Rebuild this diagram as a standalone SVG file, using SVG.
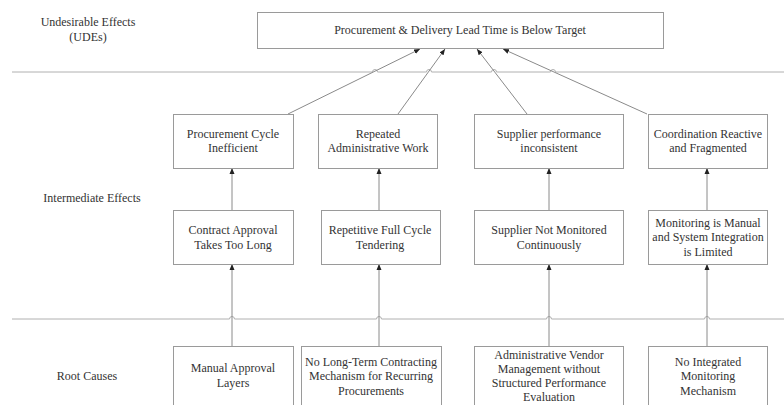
<svg xmlns="http://www.w3.org/2000/svg" width="784" height="405" viewBox="0 0 784 405">
  <style>
    text { font-family: 'Liberation Serif', 'DejaVu Serif', serif; font-size: 12px; fill: #333; text-anchor: middle; }
    .box { fill: #fff; stroke: #9a9a9a; stroke-width: 1; }
    .divider { fill: none; stroke: #b0b0b0; stroke-width: 1; }
    .link { fill: none; stroke: #8a8a8a; stroke-width: 1; marker-end: url(#arrow); }
  </style>
  <defs>
    <marker id="arrow" viewBox="0 0 6 6" refX="6" refY="3" markerWidth="6" markerHeight="6" markerUnits="userSpaceOnUse" orient="auto">
      <path d="M0,0.5 L6,3 L0,5.5 Z" fill="#222"/>
    </marker>
  </defs>
  <rect width="784" height="405" fill="#fff"/>

  <!-- level dividers, hopping over the connectors they cross -->
  <g id="dividers">
    <path class="divider" d="M12,72 H372.5 A2.5,2.5 0 0 1 377.5,72 H426.5 A2.5,2.5 0 0 1 431.5,72 H491.5 A2.5,2.5 0 0 1 496.5,72 H550.5 A2.5,2.5 0 0 1 555.5,72 H784"/>
    <path class="divider" d="M12,319 H229.5 A2.5,2.5 0 0 1 234.5,319 H376.5 A2.5,2.5 0 0 1 381.5,319 H546.5 A2.5,2.5 0 0 1 551.5,319 H704.5 A2.5,2.5 0 0 1 709.5,319 H784"/>
  </g>

  <!-- level labels -->
  <g id="labels" font-family="Liberation Serif, serif">
    <text x="88" y="26">Undesirable Effects</text>
    <text x="88" y="41">(UDEs)</text>
    <text x="92" y="202">Intermediate Effects</text>
    <text x="87" y="380">Root Causes</text>
  </g>

  <!-- connectors -->
  <g id="connectors">
    <line class="link" x1="288" y1="114" x2="420" y2="49"/>
    <line class="link" x1="398" y1="114" x2="445" y2="49"/>
    <line class="link" x1="527" y1="114" x2="477" y2="49"/>
    <line class="link" x1="647" y1="114" x2="503" y2="49"/>
    <line class="link" x1="232" y1="210" x2="232" y2="168"/>
    <line class="link" x1="379" y1="210" x2="379" y2="168"/>
    <line class="link" x1="549" y1="210" x2="549" y2="168"/>
    <line class="link" x1="707" y1="210" x2="707" y2="168"/>
    <line class="link" x1="232" y1="346" x2="232" y2="264"/>
    <line class="link" x1="379" y1="346" x2="379" y2="264"/>
    <line class="link" x1="549" y1="346" x2="549" y2="264"/>
    <line class="link" x1="707" y1="346" x2="707" y2="264"/>
  </g>

  <!-- undesirable effect -->
  <g id="ude">
    <rect class="box" x="257.5" y="12.5" width="406" height="36"/>
    <text x="460" y="34">Procurement &amp; Delivery Lead Time is Below Target</text>
  </g>

  <!-- intermediate effects, upper row -->
  <g id="ie-procurement-cycle">
    <rect class="box" x="173.5" y="114.5" width="120" height="54"/>
    <text x="233" y="138">Procurement Cycle</text>
    <text x="233" y="152">Inefficient</text>
  </g>
  <g id="ie-repeated-admin">
    <rect class="box" x="318.5" y="114.5" width="119" height="54"/>
    <text x="378" y="138">Repeated</text>
    <text x="378" y="152">Administrative Work</text>
  </g>
  <g id="ie-supplier-performance">
    <rect class="box" x="474.5" y="114.5" width="149" height="54"/>
    <text x="549" y="138">Supplier performance</text>
    <text x="549" y="152">inconsistent</text>
  </g>
  <g id="ie-coordination">
    <rect class="box" x="648.5" y="114.5" width="119" height="54"/>
    <text x="708" y="138">Coordination Reactive</text>
    <text x="708" y="152">and Fragmented</text>
  </g>

  <!-- intermediate effects, lower row -->
  <g id="ie-contract-approval">
    <rect class="box" x="173.5" y="210.5" width="120" height="54"/>
    <text x="233" y="234">Contract Approval</text>
    <text x="233" y="249">Takes Too Long</text>
  </g>
  <g id="ie-repetitive-tendering">
    <rect class="box" x="321.5" y="210.5" width="119" height="54"/>
    <text x="380" y="234">Repetitive Full Cycle</text>
    <text x="380" y="249">Tendering</text>
  </g>
  <g id="ie-supplier-monitoring">
    <rect class="box" x="474.5" y="210.5" width="149" height="54"/>
    <text x="549" y="234">Supplier Not Monitored</text>
    <text x="549" y="249">Continuously</text>
  </g>
  <g id="ie-manual-monitoring">
    <rect class="box" x="648.5" y="210.5" width="119" height="54"/>
    <text x="708" y="227">Monitoring is Manual</text>
    <text x="708" y="241">and System Integration</text>
    <text x="708" y="256">is Limited</text>
  </g>

  <!-- root causes -->
  <g id="rc-manual-approval">
    <rect class="box" x="173.5" y="346.5" width="120" height="70"/>
    <text x="233" y="372">Manual Approval</text>
    <text x="233" y="387">Layers</text>
  </g>
  <g id="rc-no-long-term">
    <rect class="box" x="301.5" y="346.5" width="140" height="70"/>
    <text x="371" y="366">No Long-Term Contracting</text>
    <text x="371" y="380">Mechanism for Recurring</text>
    <text x="371" y="395">Procurements</text>
  </g>
  <g id="rc-vendor-management">
    <rect class="box" x="474.5" y="346.5" width="149" height="70"/>
    <text x="549" y="359">Administrative Vendor</text>
    <text x="549" y="373">Management without</text>
    <text x="549" y="387">Structured Performance</text>
    <text x="549" y="401">Evaluation</text>
  </g>
  <g id="rc-no-integrated">
    <rect class="box" x="648.5" y="346.5" width="119" height="70"/>
    <text x="708" y="366">No Integrated</text>
    <text x="708" y="380">Monitoring</text>
    <text x="708" y="395">Mechanism</text>
  </g>
</svg>
